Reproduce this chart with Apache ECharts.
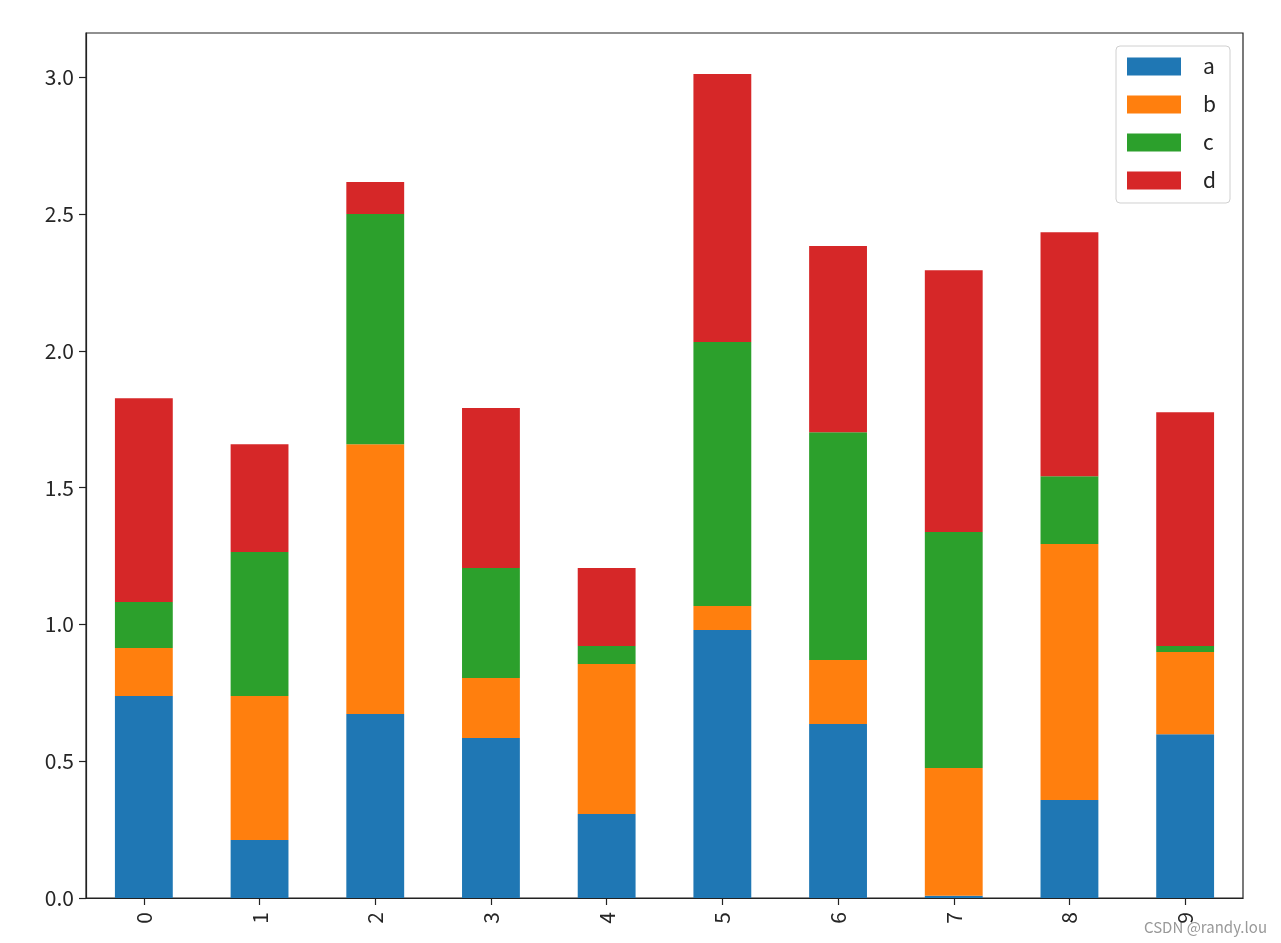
<!DOCTYPE html>
<html>
<head>
<meta charset="utf-8">
<script src="https://cdn.jsdelivr.net/npm/echarts@6/dist/echarts.min.js"></script>
<style>html,body{margin:0;padding:0;background:#fff;}#c{width:1281px;height:943px;}</style>
</head>
<body>
<div id="c"></div>
<script>
var categories = ['0','1','2','3','4','5','6','7','8','9'];
var seriesA = [0.738, 0.212, 0.673, 0.585, 0.307, 0.980, 0.636, 0.008, 0.358, 0.599];
var seriesB = [0.176, 0.526, 0.986, 0.219, 0.548, 0.087, 0.234, 0.467, 0.936, 0.300];
var seriesC = [0.168, 0.527, 0.841, 0.402, 0.066, 0.965, 0.833, 0.863, 0.248, 0.022];
var seriesD = [0.745, 0.394, 0.117, 0.585, 0.285, 0.980, 0.680, 0.957, 0.892, 0.855];
var seriesNames = ['a','b','c','d'];
var colors = ['#1f77b4','#ff7f0e','#2ca02c','#d62728'];
var yTicks = [0, 0.5, 1.0, 1.5, 2.0, 2.5, 3.0];

var font = '"Noto Sans CJK SC", "DejaVu Sans", sans-serif';
var chart = echarts.init(document.getElementById('c'), null, {renderer:'canvas'});
var data = [seriesA, seriesB, seriesC, seriesD];
var option = {
  animation: false,
  backgroundColor: '#fff',
  grid: {left: 86, right: 38, top: 33, bottom: 45, show: true, borderColor: '#222', borderWidth: 1.2, backgroundColor: 'transparent'},
  legend: {
    orient: 'vertical', left: 1116, top: 46,
    data: seriesNames,
    itemWidth: 54, itemHeight: 18, itemGap: 17,
    padding: [10, 14, 12, 11],
    borderColor: '#d0d0d0', borderWidth: 1, borderRadius: 4,
    icon: 'rect',
    textStyle: {fontSize: 21, lineHeight: 18, color: '#262626', fontFamily: font, padding: [0,0,0,17]}
  },
  xAxis: {
    type: 'category', data: categories,
    axisLine: {show: true, lineStyle: {color: '#222', width: 1.2}},
    axisTick: {show: true, alignWithLabel: true, length: 7, lineStyle: {color: '#222', width: 1.2}},
    axisLabel: {rotate: 90, margin: 14, fontSize: 21, color: '#262626', fontFamily: font},
    splitLine: {show: false}
  },
  yAxis: {
    type: 'value', min: 0, max: 3.162, interval: 0.5,
    axisLine: {show: true, lineStyle: {color: '#222', width: 1.2}},
    axisTick: {show: true, length: 7, lineStyle: {color: '#222', width: 1.2}},
    axisLabel: {showMaxLabel: false, margin: 12, fontSize: 21, color: '#262626', fontFamily: font,
      formatter: function(v){ return yTicks.indexOf(Math.round(v*10)/10) >= 0 ? v.toFixed(1) : ''; }},
    splitLine: {show: false}
  },
  series: seriesNames.map(function(n, i){
    return {name: n, type: 'bar', stack: 'total', data: data[i], barWidth: '50%',
      itemStyle: {color: colors[i]}};
  }),
  graphic: [{type: 'text', right: 14, bottom: 8, style: {text: 'CSDN @randy.lou', fill: '#999', fontSize: 15, fontFamily: font}}]
};
chart.setOption(option);
</script>
</body>
</html>
